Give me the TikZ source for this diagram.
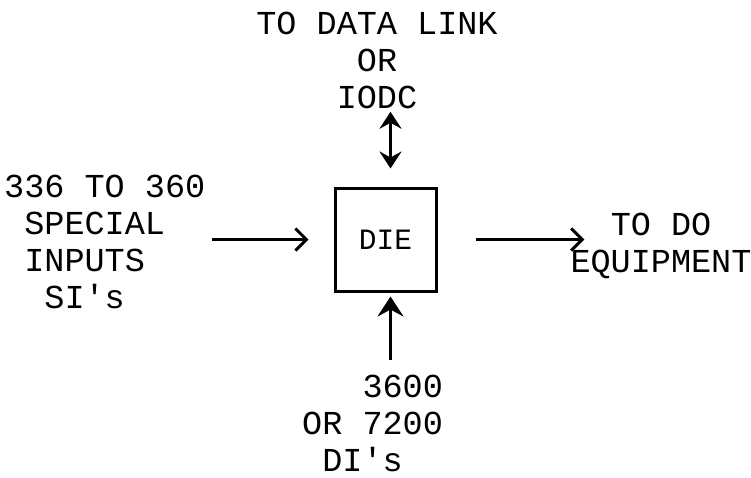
\documentclass[tikz,border=0pt]{standalone}
\usepackage{fontspec}
\setmonofont{Liberation Mono}
\usetikzlibrary{arrows.meta,calc}
\tikzset{
  lbl/.style={font=\ttfamily\fontsize{33.5}{36.8}\selectfont, inner sep=0pt},
  blk/.style={draw, line width=3pt, minimum width=101pt, minimum height=103pt,
    font=\ttfamily\fontsize{29.5}{32}\selectfont},
  harr/.style={line width=3pt, -{Straight Barb[length=11pt,width=22pt,line width=3pt]}},
  varr/.style={line width=3pt, -{Stealth[length=20pt,width=26pt,inset=7pt]}},
  dbl/.style={line width=3pt, {Stealth[length=17pt,width=22pt,inset=6pt]}-{Stealth[length=17pt,width=22pt,inset=6pt]}}
}
\begin{document}
\begin{tikzpicture}[x=1pt,y=-1pt]
\useasboundingbox (0,0) rectangle (751,477);
\node[blk] (die) at (385.5,239.5) {DIE};
\node[lbl, align=center, anchor=north] (top) at (377,12) {TO DATA LINK\\OR\\IODC};
\node[lbl, align=left, anchor=north west] (si) at (4,175)
  {336 TO 360\\\phantom{X}SPECIAL\\\phantom{X}INPUTS\\\phantom{XX}SI's};
\node[lbl, align=center, anchor=north] (eq) at (661,213) {TO DO\\EQUIPMENT};
\node[lbl, align=left, anchor=north west] (di) at (302,375)
  {\phantom{XXX}3600\\OR 7200\\\phantom{X}DI's};
\draw[dbl, shorten <=18pt, shorten >=3pt] ([xshift=5pt]die.north) -- ([xshift=5pt]die.north |- top.south);
\draw[harr, shorten <=7pt, shorten >=25pt] (si.east |- die.west) -- (die.west);
\draw[harr, shorten <=38pt] (die.east) -- ($(die.east -| eq.west)+(14,0)$);
\draw[varr, shorten <=15pt, shorten >=4pt] ([xshift=5pt]die.south |- di.north) -- ([xshift=5pt]die.south);
\end{tikzpicture}
\end{document}
